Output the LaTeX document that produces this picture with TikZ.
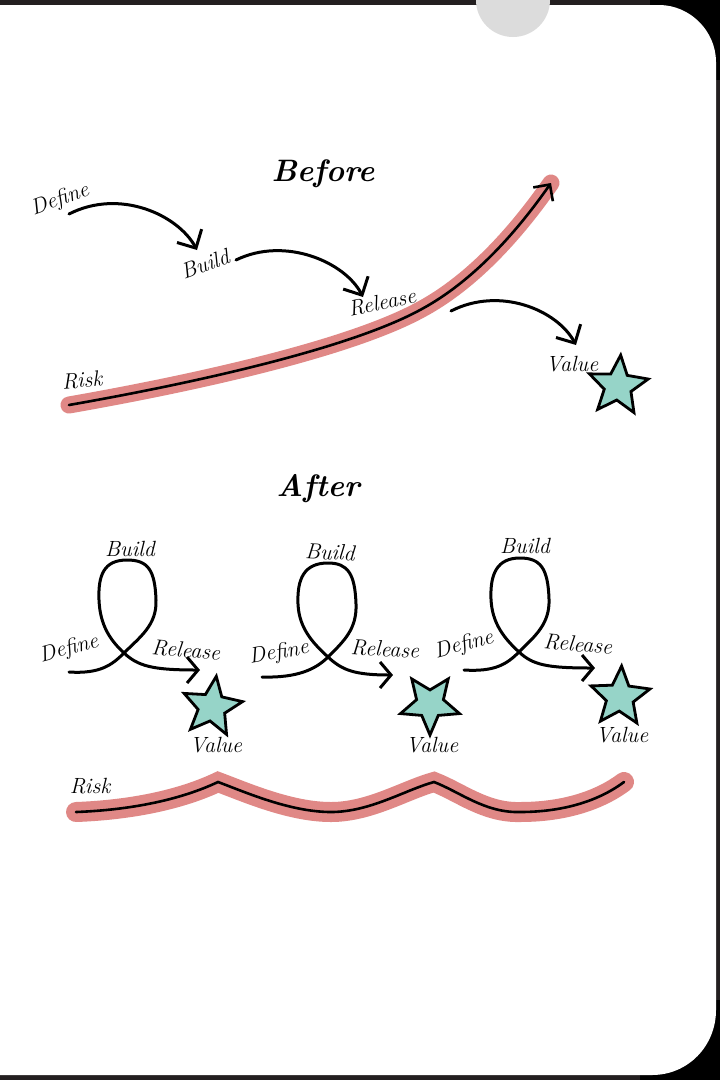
\documentclass[tikz,border=0pt]{standalone}
\usepackage{fontspec}
\usetikzlibrary{arrows.meta,shapes}

\definecolor{riskred}{RGB}{224,136,134}
\definecolor{valueteal}{RGB}{150,212,200}
\definecolor{framedark}{RGB}{35,31,32}
\definecolor{holegrey}{RGB}{220,220,220}

\begin{document}
\begin{tikzpicture}[x=1pt,y=-1pt,
  label/.style={font=\fontsize{22}{22}\selectfont\itshape, inner sep=0pt},
  title/.style={font=\fontsize{31}{31}\selectfont\bfseries\itshape},
  flow/.style={line width=3pt, line cap=round, -{Straight Barb[length=14pt,width=28pt]}},
  loopline/.style={line width=3pt, line cap=round, -{Straight Barb[length=11pt,width=26pt]}},
  riskband/.style={riskred, line width=17pt, line cap=round},
  riskline/.style={line width=2.6pt, line cap=round},
  valuestar/.style={star, star points=5, star point ratio=2.2, minimum size=62pt, inner sep=0pt, draw=black, line width=2.8pt, fill=valueteal}]

% Page frame
\useasboundingbox (0,0) rectangle (720,1080);
\fill[framedark] (0,0) rectangle (720,1080);
\fill[black] (650,0) rectangle (720,80);
\fill[black] (640,1000) rectangle (720,1080);
\fill[white] (0,5) -- (659,5) .. controls (690,5) and (716,31) .. (716,62) -- (716,1010) .. controls (716,1046) and (688,1075) .. (652,1075) -- (0,1075) -- cycle;
\fill[holegrey] (513,0) circle (37);

% Before: the labels
\node[title] (before) at (323,174) {Before};
\node[label, rotate=20] (defineB) at (60,200) {Define};
\node[label, rotate=20] (buildB) at (205,264) {Build};
\node[label, rotate=12] (releaseB) at (382,302) {Release};
\node[label, rotate=5] (riskB) at (82,380) {Risk};
\node[label] (valueB) at (572,364) {Value};
\node[valuestar, rotate=-5] (starB) at (618,386) {};

% Before: ends of the arrows
\path (69,214) coordinate (defineBout);
\path (197,250) coordinate (buildBin);
\path (236,260) coordinate (buildBout);
\path (363,297) coordinate (releaseBin);
\path (451,311) coordinate (releaseBout);
\path (576,345) coordinate (valueBin);
\path (69,405) coordinate (riskBstart);
\path (551,183) coordinate (riskBend);

% Before: one step after the other
\draw[flow] (defineBout) .. controls (120,188) and (178,215) .. (buildBin);
\draw[flow] (buildBout) .. controls (285,236) and (345,262) .. (releaseBin);
\draw[flow] (releaseBout) .. controls (500,286) and (557,310) .. (valueBin);

% Before: risk keeps growing
\draw[riskband] (riskBstart) .. controls (200,382) and (350,348) .. (420,310) .. controls (480,278) and (525,220) .. (riskBend);
\draw[riskline, -{Straight Barb[length=12pt,width=24pt]}] (riskBstart) .. controls (200,382) and (350,348) .. (420,310) .. controls (480,278) and (525,220) .. (riskBend);

% After: the labels
\node[title] (after) at (318,489) {After};
\node[label, rotate=15] (defineA1) at (69,649) {Define};
\node[label] (buildA1) at (130,549) {Build};
\node[label, rotate=-5] (releaseA1) at (186,650) {Release};
\node[valuestar, rotate=-8] (starA1) at (212,707) {};
\node[label] (valueA1) at (216,745) {Value};
\node[label, rotate=10] (defineA2) at (279,653) {Define};
\node[label, rotate=-3] (buildA2) at (330,552) {Build};
\node[label, rotate=-3] (releaseA2) at (385,649) {Release};
\node[valuestar, rotate=180] (starA2) at (430,704) {};
\node[label] (valueA2) at (432,745) {Value};
\node[label, rotate=15] (defineA3) at (464,645) {Define};
\node[label] (buildA3) at (525,546) {Build};
\node[label, rotate=-5] (releaseA3) at (578,644) {Release};
\node[valuestar, rotate=-3] (starA3) at (620,697) {};
\node[label] (valueA3) at (622,735) {Value};
\node[label] (riskA) at (90,786) {Risk};

% After: three small loops
\begin{scope}[shift={(124,653)}]
\draw[loopline] (-55,19) coordinate (defineA1out) .. controls (-24,21) and (-12,12) .. (0,0)
  .. controls (16,-16) and (33,-28) .. (32,-53)
  .. controls (31,-83) and (24,-93) .. (3,-93)
  .. controls (-20,-93) and (-26,-78) .. (-25,-53)
  .. controls (-24,-28) and (-14,-13) .. (0,0)
  .. controls (14,13) and (28,17) .. (76,17) coordinate (releaseA1in);
\end{scope}
\begin{scope}[shift={(328,657)}]
\draw[loopline] (-66,20) coordinate (defineA2out) .. controls (-30,21) and (-12,12) .. (0,0)
  .. controls (16,-16) and (29,-28) .. (28,-53)
  .. controls (27,-83) and (20,-94) .. (0,-94)
  .. controls (-24,-94) and (-31,-78) .. (-30,-53)
  .. controls (-29,-28) and (-14,-13) .. (0,0)
  .. controls (14,13) and (26,18) .. (65,18) coordinate (releaseA2in);
\end{scope}
\begin{scope}[shift={(519,652)}]
\draw[loopline] (-55,18) coordinate (defineA3out) .. controls (-24,20) and (-12,12) .. (0,0)
  .. controls (16,-16) and (31,-28) .. (30,-53)
  .. controls (29,-83) and (22,-94) .. (1,-94)
  .. controls (-22,-94) and (-29,-78) .. (-28,-53)
  .. controls (-27,-28) and (-14,-13) .. (0,0)
  .. controls (14,13) and (28,16) .. (76,16) coordinate (releaseA3in);
\end{scope}

% After: risk stays low
\path (76,812) coordinate (riskAstart);
\path (624,782) coordinate (riskAend);
\draw[riskband, line width=20pt] (riskAstart) .. controls (130,810) and (180,800) .. (218,782) .. controls (245,792) and (290,812) .. (331,812) .. controls (370,812) and (405,790) .. (434,782) .. controls (460,792) and (485,813) .. (520,812) .. controls (565,812) and (600,800) .. (riskAend);
\draw[riskline] (riskAstart) .. controls (130,810) and (180,800) .. (218,782) .. controls (245,792) and (290,812) .. (331,812) .. controls (370,812) and (405,790) .. (434,782) .. controls (460,792) and (485,813) .. (520,812) .. controls (565,812) and (600,800) .. (riskAend);
\end{tikzpicture}
\end{document}
